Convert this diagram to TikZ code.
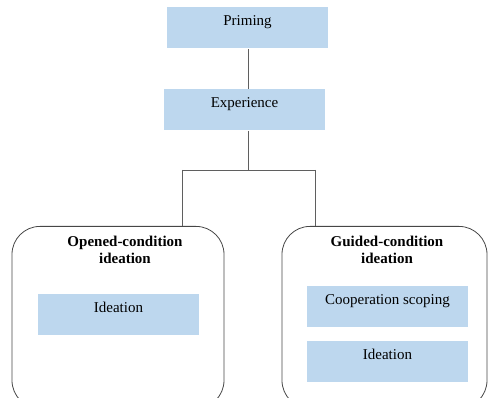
\documentclass[tikz,border=0pt]{standalone}
\usepackage{fontspec}
\setmainfont{Liberation Serif}
\definecolor{boxblue}{RGB}{189,215,238}
\definecolor{linegray}{RGB}{95,95,95}
\definecolor{framegray}{RGB}{70,70,70}
\tikzset{every picture/.style={line width=0.8pt}}
\tikzset{
  stagebox/.style={fill=boxblue, minimum width=161pt, inner xsep=0pt, inner ysep=0pt,
    text height=18.5pt, text depth=22.5pt, anchor=north, font=\fontsize{15}{17}\selectfont},
  condbox/.style={draw=framegray, rounded corners=28pt, anchor=north, inner sep=0pt, minimum height=182pt},
  condtitle/.style={anchor=north, inner sep=0pt, align=center, font=\fontsize{15}{16.5}\selectfont\bfseries},
  link/.style={draw=linegray}
}

\begin{document}
\begin{tikzpicture}[x=1pt,y=1pt,yscale=-1,xscale=1]
\useasboundingbox (0,0) rectangle (488,398);

% Stage boxes
\node [stagebox] (priming) at (247.5,7) {Priming};
\node [stagebox] (experience) at (244.5,89) {Experience};

% Condition frames
\node [condbox, minimum width=212pt] (opened) at (118,226) {};
\node [condbox, minimum width=205pt] (guided) at (384.5,226) {};
\node [condtitle] (openedtitle) at (125,236) {Opened-condition\\ideation};
\node [condtitle] (guidedtitle) at (387,236) {Guided-condition\\ideation};

% Boxes inside the frames
\node [stagebox] (ideaA) at (118.5,294) {Ideation};
\node [stagebox] (scoping) at (387.5,286) {Cooperation scoping};
\node [stagebox] (ideaB) at (387.5,341) {Ideation};

% Connectors
\coordinate (split) at (248,170);
\coordinate (splitL) at (182,170);
\coordinate (splitR) at (315,170);
\draw [link] (priming.south -| split) -- (experience.north -| split);
\draw [link] (experience.south -| split) -- (split);
\draw [link] (splitL) -- (splitR);
\draw [link] (splitL) -- (splitL |- opened.north);
\draw [link] (splitR) -- (splitR |- guided.north);
\end{tikzpicture}
\end{document}
